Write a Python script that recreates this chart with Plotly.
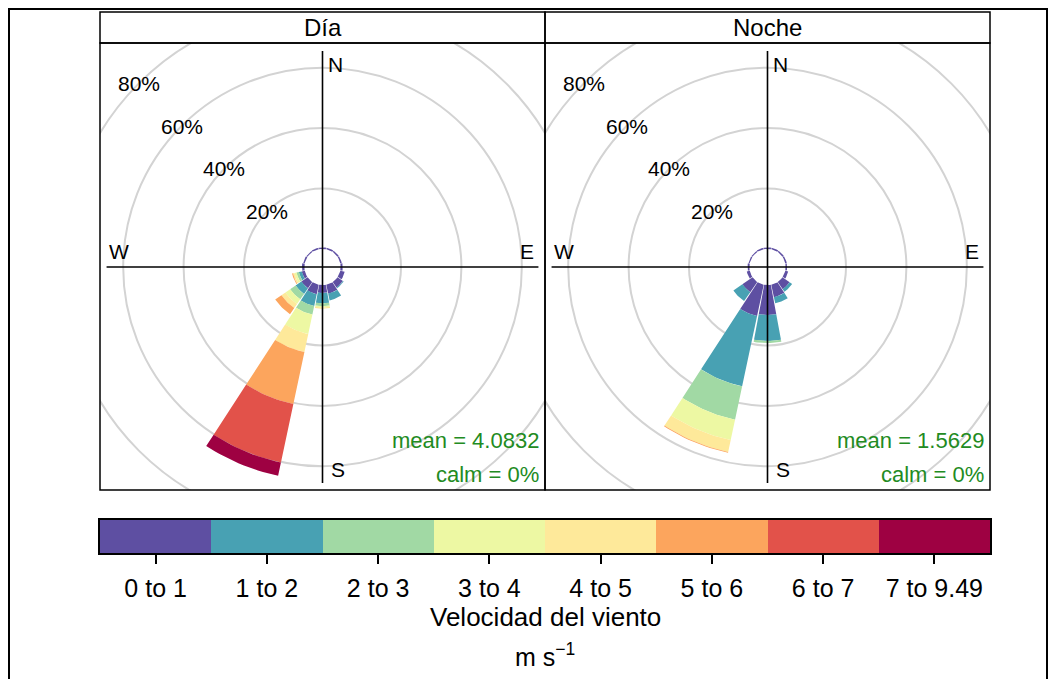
import numpy as np
import plotly.graph_objects as go

# ---------------- data ----------------
directions = [0, 22.5, 45, 67.5, 90, 112.5, 135, 157.5, 180, 202.5, 225, 247.5, 270, 292.5, 315, 337.5]
speed_bins = ["0 to 1", "1 to 2", "2 to 3", "3 to 4", "4 to 5", "5 to 6", "6 to 7", "7 to 9.49"]
bin_colors = ["#5E4FA2", "#48A1B3", "#A1D9A4", "#EDF8A3", "#FEE99A", "#FCA55D", "#E2524A", "#9E0142"]
panels = ["Día", "Noche"]
mean_text = ["mean = 4.0832", "mean = 1.5629"]
calm_text = ["calm = 0%", "calm = 0%"]
ring_values = [20, 40, 60, 80]
ring_labels = ["20%", "40%", "60%", "80%"]

# percentage of time per direction (N, NNE, ... NNW) for each speed bin
dia_b0 = [0.5, 0.5, 0.5, 0.5, 0.7, 1.5, 2.2, 3.0, 2.6, 3.2, 2.5, 1.0, 0.8, 0.5, 0.4, 0.5]
dia_b1 = [0, 0, 0, 0, 0, 0, 0.3, 2.3, 3.4, 4.0, 2.3, 1.0, 0, 0, 0, 0]
dia_b2 = [0, 0, 0, 0, 0, 0, 0, 0, 1.0, 2.9, 2.2, 0.8, 0, 0, 0, 0]
dia_b3 = [0, 0, 0, 0, 0, 0, 0, 0, 0.4, 6.6, 1.9, 0.7, 0, 0, 0, 0]
dia_b4 = [0, 0, 0, 0, 0, 0, 0, 0, 0.4, 6.1, 1.6, 0.5, 0, 0, 0, 0]
dia_b5 = [0, 0, 0, 0, 0, 0, 0, 0, 0, 17.6, 2.5, 0.3, 0, 0, 0, 0]
dia_b6 = [0, 0, 0, 0, 0, 0, 0, 0, 0, 19.8, 0, 0, 0, 0, 0, 0]
dia_b7 = [0, 0, 0, 0, 0, 0, 0, 0, 0, 4.5, 0, 0, 0, 0, 0, 0]

noche_b0 = [0.5, 0.5, 0.5, 0.5, 0.5, 1.0, 2.9, 4.2, 9.9, 10.6, 4.1, 1.0, 0.6, 0.4, 0.4, 0.5]
noche_b1 = [0, 0, 0, 0, 0, 0, 1.0, 2.1, 8.6, 23.8, 3.6, 0, 0, 0, 0, 0]
noche_b2 = [0, 0, 0, 0, 0, 0, 0, 0, 0.7, 11.3, 0, 0, 0, 0, 0, 0]
noche_b3 = [0, 0, 0, 0, 0, 0, 0, 0, 0, 6.9, 0, 0, 0, 0, 0, 0]
noche_b4 = [0, 0, 0, 0, 0, 0, 0, 0, 0, 4.0, 0, 0, 0, 0, 0, 0]
noche_b5 = [0, 0, 0, 0, 0, 0, 0, 0, 0, 0.3, 0, 0, 0, 0, 0, 0]
noche_b6 = [0] * 16
noche_b7 = [0] * 16

panel_data = [
    [dia_b0, dia_b1, dia_b2, dia_b3, dia_b4, dia_b5, dia_b6, dia_b7],
    [noche_b0, noche_b1, noche_b2, noche_b3, noche_b4, noche_b5, noche_b6, noche_b7],
]

# ---------------- geometry (page pixels of the reference) ----------------
PAGE_OFF = 8                      # default body margin of the html page
W, H = 1059 - PAGE_OFF, 679 - PAGE_OFF
FONT = "Arial, Liberation Sans, sans-serif"
OFFSET = 6.0          # inner hole, in % units
SCALE = 3.02          # px per % unit
PETAL_W = 21.0        # degrees
AX_LEN = 71.5         # half-length of the N-S / E-W lines (units)
panel_x = [(100, 545), (545, 990)]
panel_top, panel_bot, strip_top = 43, 490, 12
center_y = 267

def px(x):
    return (x - PAGE_OFF) / W

def py(y):
    return 1 - (y - PAGE_OFF) / H

fig = go.Figure()
shapes = []
annotations = []

for p in range(2):
    xa = "x" if p == 0 else "x2"
    ya = "y" if p == 0 else "y2"
    data = panel_data[p]
    cum = np.zeros(len(directions))
    for b in range(len(speed_bins)):
        vals = np.array(data[b], dtype=float)
        xs, ys = [], []
        for d, ang in enumerate(directions):
            if vals[d] <= 0:
                continue
            r0 = OFFSET + cum[d]
            r1 = OFFSET + cum[d] + vals[d]
            th = np.radians(np.linspace(ang - PETAL_W / 2, ang + PETAL_W / 2, 16))
            px_out = r1 * np.sin(th)
            py_out = r1 * np.cos(th)
            px_in = r0 * np.sin(th[::-1])
            py_in = r0 * np.cos(th[::-1])
            xs += list(px_out) + list(px_in) + [px_out[0], None]
            ys += list(py_out) + list(py_in) + [py_out[0], None]
        cum += vals
        if xs:
            fig.add_trace(go.Scatter(
                x=xs, y=ys, mode="lines", fill="toself",
                fillcolor=bin_colors[b], line=dict(width=0, color=bin_colors[b]),
                hoverinfo="skip", showlegend=False, xaxis=xa, yaxis=ya))

    # rings
    for rv, rl in zip(ring_values, ring_labels):
        r = OFFSET + rv
        shapes.append(dict(type="circle", xref=xa, yref=ya, x0=-r, y0=-r, x1=r, y1=r,
                           line=dict(color="#D3D3D3", width=2), layer="below"))
        ang = np.radians(315)
        annotations.append(dict(x=r * np.sin(ang), y=r * np.cos(ang), xref=xa, yref=ya,
                                text=rl, showarrow=False,
                                font=dict(size=21, color="black", family=FONT),
                                xanchor="center", yanchor="middle"))
    # cross lines
    shapes.append(dict(type="line", xref=xa, yref=ya, x0=-AX_LEN, y0=0, x1=AX_LEN, y1=0,
                       line=dict(color="black", width=1.6)))
    shapes.append(dict(type="line", xref=xa, yref=ya, x0=0, y0=-AX_LEN, x1=0, y1=AX_LEN,
                       line=dict(color="black", width=1.6)))
    # compass labels
    f = dict(size=21, color="black", family=FONT)
    annotations += [
        dict(x=0, y=AX_LEN, xref=xa, yref=ya, text="N", showarrow=False, font=f,
             xanchor="left", yanchor="top", xshift=3),
        dict(x=0, y=-AX_LEN, xref=xa, yref=ya, text="S", showarrow=False, font=f,
             xanchor="left", yanchor="bottom", xshift=6),
        dict(x=-AX_LEN, y=0, xref=xa, yref=ya, text="W", showarrow=False, font=f,
             xanchor="left", yanchor="bottom", yshift=2),
        dict(x=AX_LEN, y=0, xref=xa, yref=ya, text="E", showarrow=False, font=f,
             xanchor="right", yanchor="bottom", xshift=-2, yshift=2),
    ]
    # mean / calm
    g = dict(size=22, color="#228B22", family=FONT)
    x0p, x1p = panel_x[p]
    annotations += [
        dict(x=px(x1p - 4), y=py(440), xref="paper", yref="paper", text=mean_text[p],
             showarrow=False, font=g, xanchor="right", yanchor="middle"),
        dict(x=px(x1p - 4), y=py(474), xref="paper", yref="paper", text=calm_text[p],
             showarrow=False, font=g, xanchor="right", yanchor="middle"),
    ]
    # strip
    shapes.append(dict(type="rect", xref="paper", yref="paper", x0=px(x0p), x1=px(x1p),
                       y0=py(panel_top), y1=py(strip_top), line=dict(color="black", width=1.5)))
    annotations.append(dict(x=px((x0p + x1p) / 2), y=py((strip_top + panel_top) / 2),
                            xref="paper", yref="paper", text=panels[p], showarrow=False,
                            font=dict(size=24, color="black", family=FONT),
                            xanchor="center", yanchor="middle"))
    # panel box
    shapes.append(dict(type="rect", xref="paper", yref="paper", x0=px(x0p), x1=px(x1p),
                       y0=py(panel_bot), y1=py(panel_top), line=dict(color="black", width=1.5)))

    half_w = (x1p - x0p) / 2 / SCALE
    axis_x = dict(domain=[px(x0p), px(x1p)], range=[-half_w, half_w], visible=False,
                  fixedrange=True)
    axis_y = dict(domain=[py(panel_bot), py(panel_top)],
                  range=[-(panel_bot - center_y) / SCALE, (center_y - panel_top) / SCALE],
                  visible=False, fixedrange=True)
    if p == 0:
        fig.update_layout(xaxis=axis_x, yaxis=axis_y)
    else:
        axis_y["anchor"] = "x2"
        axis_x["anchor"] = "y2"
        fig.update_layout(xaxis2=axis_x, yaxis2=axis_y)

# ---------------- colour key ----------------
fig.add_trace(go.Heatmap(
    z=[list(range(len(speed_bins)))], x=list(range(len(speed_bins))), y=[0],
    colorscale=[[k / (len(bin_colors) - 1), c] for k, c in enumerate(bin_colors)],
    zmin=0, zmax=len(bin_colors) - 1, showscale=False, hoverinfo="skip",
    xaxis="x3", yaxis="y3"))
fig.update_layout(
    xaxis3=dict(domain=[px(100), px(990)], range=[-0.5, 7.5], anchor="y3",
                tickvals=list(range(len(speed_bins))), ticktext=speed_bins,
                ticks="outside", ticklen=9, tickwidth=1.5, tickcolor="black",
                showline=True, mirror=True, linecolor="black", linewidth=1.5,
                showgrid=False, zeroline=False, ticklabelstandoff=3,
                tickfont=dict(size=25, color="black", family=FONT), fixedrange=True),
    yaxis3=dict(domain=[py(553), py(520)], range=[-0.5, 0.5], anchor="x3",
                showline=True, mirror=True, linecolor="black", linewidth=1.5,
                showticklabels=False, ticks="", showgrid=False, zeroline=False,
                fixedrange=True),
)
annotations += [
    dict(x=px(545), y=py(617), xref="paper", yref="paper", text="Velocidad del viento",
         showarrow=False, font=dict(size=26, color="black", family=FONT),
         xanchor="center", yanchor="middle"),
    dict(x=px(545), y=py(655), xref="paper", yref="paper", text="m s<sup>\u22121</sup>",
         showarrow=False, font=dict(size=25, color="black", family=FONT),
         xanchor="center", yanchor="middle"),
]

# outer frame
shapes.append(dict(type="rect", xref="paper", yref="paper", x0=px(9), x1=px(1047),
                   y0=py(700), y1=py(9), line=dict(color="black", width=2)))

fig.update_layout(
    width=W, height=H, margin=dict(l=0, r=0, t=0, b=0),
    paper_bgcolor="white", plot_bgcolor="white",
    shapes=shapes, annotations=annotations, showlegend=False,
    font=dict(family=FONT),
)
fig.write_html("out.html")
